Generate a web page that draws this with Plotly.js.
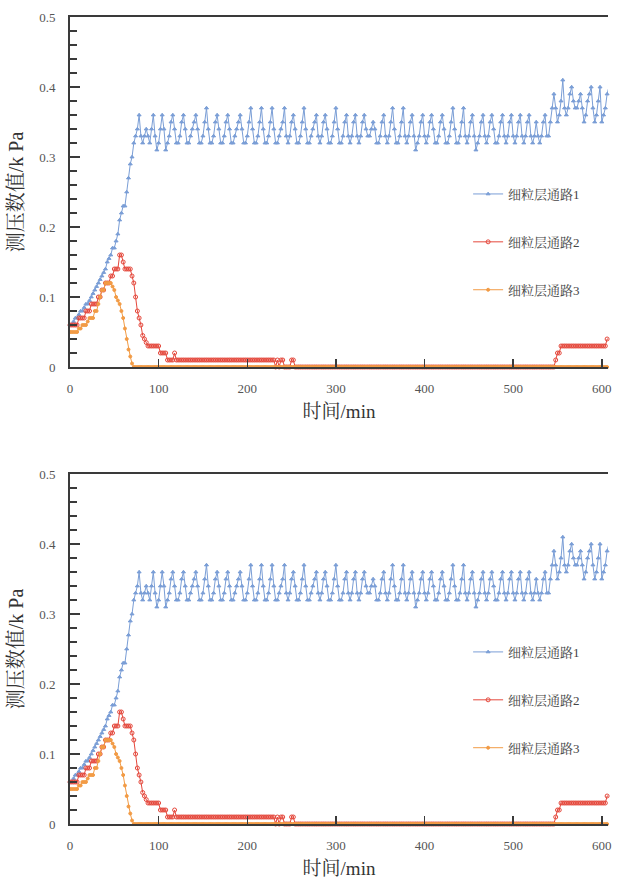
<!DOCTYPE html>
<html>
<head>
<meta charset="utf-8">
<script src="https://cdn.plot.ly/plotly-3.0.1.min.js"></script>
<style>html,body{margin:0;padding:0;background:#fff;}#chart{width:619px;height:883px;}</style>
</head>
<body>
<div id="chart"></div>
<script>
// time sampling step (min)
const STEP = 2;
// series names
const names = ["细粒层通路1", "细粒层通路2", "细粒层通路3"];
// 细粒层通路1 (kPa), t = 0,2,4,...,608
const ch1 = [
0.06,0.06,0.065,0.07,0.07,0.075,0.08,0.08,0.085,0.09,
0.09,0.095,0.10,0.105,0.11,0.115,0.12,0.125,0.13,0.135,
0.14,0.15,0.155,0.16,0.17,0.17,0.18,0.19,0.21,0.22,
0.23,0.23,0.25,0.27,0.29,0.30,0.32,0.33,0.34,0.36,
0.33,0.32,0.33,0.34,0.33,0.32,0.34,0.36,0.33,0.31,
0.32,0.34,0.36,0.34,0.31,0.32,0.33,0.35,0.36,0.34,
0.32,0.32,0.33,0.35,0.36,0.34,0.32,0.32,0.33,0.34,
0.35,0.36,0.34,0.32,0.32,0.33,0.35,0.37,0.34,0.32,
0.32,0.33,0.35,0.36,0.34,0.32,0.32,0.33,0.35,0.36,
0.34,0.32,0.32,0.33,0.34,0.35,0.36,0.34,0.32,0.32,
0.33,0.35,0.37,0.34,0.32,0.32,0.33,0.35,0.37,0.34,
0.32,0.32,0.33,0.35,0.37,0.34,0.32,0.32,0.33,0.34,
0.35,0.37,0.33,0.32,0.33,0.35,0.36,0.34,0.32,0.32,
0.33,0.35,0.37,0.34,0.32,0.32,0.33,0.34,0.35,0.36,
0.33,0.32,0.33,0.35,0.36,0.34,0.32,0.32,0.33,0.35,
0.37,0.34,0.32,0.32,0.33,0.35,0.36,0.33,0.32,0.33,
0.35,0.36,0.33,0.32,0.33,0.35,0.36,0.34,0.33,0.33,
0.34,0.35,0.34,0.32,0.32,0.33,0.35,0.36,0.33,0.32,
0.33,0.35,0.37,0.34,0.32,0.32,0.33,0.35,0.37,0.33,
0.32,0.33,0.35,0.36,0.33,0.31,0.32,0.33,0.35,0.36,
0.33,0.32,0.33,0.35,0.36,0.34,0.32,0.32,0.33,0.35,
0.36,0.34,0.32,0.32,0.33,0.35,0.37,0.34,0.32,0.32,
0.33,0.35,0.37,0.33,0.32,0.33,0.35,0.36,0.33,0.31,
0.32,0.33,0.35,0.36,0.33,0.32,0.33,0.35,0.36,0.34,
0.32,0.32,0.33,0.35,0.36,0.33,0.32,0.33,0.35,0.36,
0.33,0.32,0.33,0.35,0.36,0.33,0.32,0.33,0.35,0.36,
0.33,0.32,0.33,0.35,0.33,0.32,0.33,0.35,0.36,0.33,
0.33,0.35,0.37,0.39,0.37,0.35,0.36,0.38,0.41,0.37,
0.36,0.37,0.39,0.40,0.38,0.37,0.37,0.38,0.39,0.37,
0.35,0.36,0.38,0.39,0.40,0.37,0.35,0.36,0.38,0.40,
0.35,0.36,0.37,0.39,0.40
];
// 细粒层通路2 (kPa)
const ch2 = [
0.06,0.06,0.06,0.06,0.06,0.07,0.07,0.07,0.07,0.08,
0.08,0.08,0.09,0.09,0.09,0.09,0.10,0.10,0.11,0.11,
0.12,0.12,0.12,0.13,0.13,0.14,0.14,0.14,0.16,0.16,
0.15,0.14,0.14,0.14,0.14,0.13,0.12,0.10,0.08,0.07,
0.06,0.045,0.04,0.035,0.03,0.03,0.03,0.03,0.03,0.03,
0.03,0.02,0.02,0.02,0.02,0.01,0.01,0.01,0.01,0.02,
0.01,0.01,0.01,0.01,0.01,0.01,0.01,0.01,0.01,0.01,
0.01,0.01,0.01,0.01,0.01,0.01,0.01,0.01,0.01,0.01,
0.01,0.01,0.01,0.01,0.01,0.01,0.01,0.01,0.01,0.01,
0.01,0.01,0.01,0.01,0.01,0.01,0.01,0.01,0.01,0.01,
0.01,0.01,0.01,0.01,0.01,0.01,0.01,0.01,0.01,0.01,
0.01,0.01,0.01,0.01,0.01,0.01,0,0.01,0,0.01,
0.01,0,0,0,0,0.01,0.01,0,0,0,
0,0,0,0,0,0,0,0,0,0,
0,0,0,0,0,0,0,0,0,0,
0,0,0,0,0,0,0,0,0,0,
0,0,0,0,0,0,0,0,0,0,
0,0,0,0,0,0,0,0,0,0,
0,0,0,0,0,0,0,0,0,0,
0,0,0,0,0,0,0,0,0,0,
0,0,0,0,0,0,0,0,0,0,
0,0,0,0,0,0,0,0,0,0,
0,0,0,0,0,0,0,0,0,0,
0,0,0,0,0,0,0,0,0,0,
0,0,0,0,0,0,0,0,0,0,
0,0,0,0,0,0,0,0,0,0,
0,0,0,0,0,0,0,0,0,0,
0,0,0,0,0.01,0.02,0.02,0.03,0.03,0.03,
0.03,0.03,0.03,0.03,0.03,0.03,0.03,0.03,0.03,0.03,
0.03,0.03,0.03,0.03,0.03,0.03,0.03,0.03,0.03,0.03,
0.03,0.03,0.03,0.04,0.04
];
// 细粒层通路3 (kPa)
const ch3 = [
0.05,0.05,0.05,0.05,0.05,0.055,0.055,0.06,0.06,0.06,
0.065,0.07,0.07,0.07,0.08,0.08,0.09,0.10,0.11,0.11,
0.12,0.12,0.12,0.12,0.115,0.11,0.10,0.095,0.09,0.08,
0.07,0.055,0.04,0.025,0.015,0.005,0,0,0,0,
0,0,0,0,0,0,0,0,0,0,
0,0,0,0,0,0,0,0,0,0,
0,0,0,0,0,0,0,0,0,0,
0,0,0,0,0,0,0,0,0,0,
0,0,0,0,0,0,0,0,0,0,
0,0,0,0,0,0,0,0,0,0,
0,0,0,0,0,0,0,0,0,0,
0,0,0,0,0,0,0,0,0,0,
0,0,0,0,0,0,0,0,0,0,
0,0,0,0,0,0,0,0,0,0,
0,0,0,0,0,0,0,0,0,0,
0,0,0,0,0,0,0,0,0,0,
0,0,0,0,0,0,0,0,0,0,
0,0,0,0,0,0,0,0,0,0,
0,0,0,0,0,0,0,0,0,0,
0,0,0,0,0,0,0,0,0,0,
0,0,0,0,0,0,0,0,0,0,
0,0,0,0,0,0,0,0,0,0,
0,0,0,0,0,0,0,0,0,0,
0,0,0,0,0,0,0,0,0,0,
0,0,0,0,0,0,0,0,0,0,
0,0,0,0,0,0,0,0,0,0,
0,0,0,0,0,0,0,0,0,0,
0,0,0,0,0,0,0,0,0,0,
0,0,0,0,0,0,0,0,0,0,
0,0,0,0,0,0,0,0,0,0,
0,0,0,0,0
];
const xTitle = "时间/min";
const yTitle = "测压数值/k Pa";
const xTicks = [0, 100, 200, 300, 400, 500, 600];

const times = ch1.map((_, i) => i * STEP);
const FONT = "'Liberation Serif', 'Noto Serif CJK SC', 'Noto Sans CJK SC', serif";
const colors = ["#7A9ED6", "#E5483C", "#F29B45"];
const symbols = ["triangle-up", "circle-open", "circle"];
const msize = [3.5, 4, 3];
const series = [ch1, ch2, ch3];
const topDomain = [0.5663, 1];
const botDomain = [0, 0.4337];

const traces = [];
[["x", "y", "legend", "a"], ["x2", "y2", "legend2", "b"]].forEach(([xa, ya, lg, grp]) => {
  series.forEach((s, k) => {
    traces.push({
      type: "scatter", mode: "lines+markers",
      x: times, y: s, name: names[k],
      xaxis: xa, yaxis: ya, legend: lg, legendgroup: grp + k,
      cliponaxis: false,
      line: {color: colors[k], width: 1},
      marker: {symbol: symbols[k], size: msize[k], color: colors[k], line: {color: colors[k], width: 1}}
    });
  });
});

function xAxis(anchor) {
  return {
    anchor: anchor, range: [0, 607], tickvals: xTicks, ticktext: xTicks.map(String),
    showline: true, mirror: true, linecolor: "#3a3a3a", linewidth: 2,
    ticks: "inside", ticklen: 8, tickwidth: 1.5, tickcolor: "#3a3a3a",
    ticklabelstandoff: 8,
    showgrid: false, zeroline: false,
    tickfont: {family: FONT, size: 13, color: "#555"},
    title: {text: xTitle, font: {family: FONT, size: 19, color: "#333"}, standoff: 10}
  };
}
function yAxis(anchor, domain) {
  return {
    anchor: anchor, domain: domain, range: [0, 0.5], dtick: 0.1,
    showline: true, linecolor: "#3a3a3a", linewidth: 2,
    ticks: "inside", ticklen: 10, tickwidth: 1.5, tickcolor: "#3a3a3a",
    minor: {dtick: 0.02, ticks: "inside", ticklen: 7, tickwidth: 1.5, tickcolor: "#3a3a3a"},
    ticklabelstandoff: 10,
    showgrid: false, zeroline: false,
    tickfont: {family: FONT, size: 13, color: "#555"},
    title: {text: yTitle, font: {family: FONT, size: 20, color: "#333"}, standoff: 10}
  };
}
function legend(y) {
  return {
    x: 0.74, xanchor: "left", y: y, yanchor: "middle",
    bgcolor: "rgba(0,0,0,0)", tracegroupgap: 28,
    font: {family: FONT, size: 13, color: "#444"}
  };
}

const layout = {
  width: 619, height: 883,
  margin: {l: 70, r: 11, t: 17, b: 59},
  paper_bgcolor: "#fff", plot_bgcolor: "#fff",
  font: {family: FONT},
  showlegend: true,
  xaxis: xAxis("y"),
  yaxis: yAxis("x", topDomain),
  xaxis2: xAxis("y2"),
  yaxis2: yAxis("x2", botDomain),
  legend: legend(0.7212),
  legend2: legend(0.1537)
};

Plotly.newPlot("chart", traces, layout, {displayModeBar: false, staticPlot: true});
</script>
</body>
</html>
